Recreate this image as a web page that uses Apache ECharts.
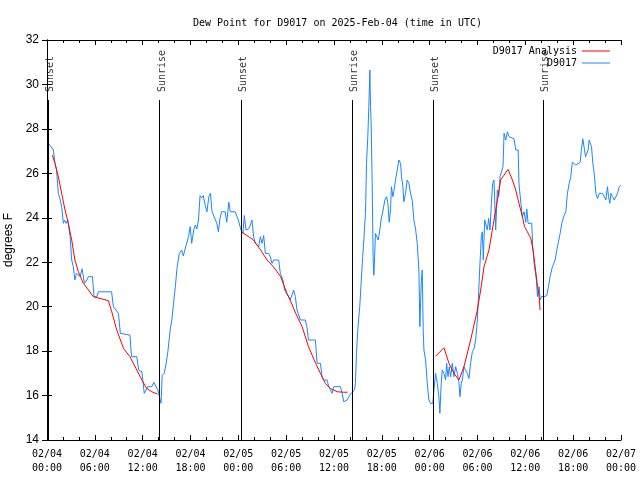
<!DOCTYPE html>
<html>
<head>
<meta charset="utf-8">
<script src="https://cdn.jsdelivr.net/npm/echarts@6/dist/echarts.min.js"></script>
<style>html,body{margin:0;padding:0;background:#fff}#c{width:640px;height:480px}</style>
</head>
<body>
<div id="c"></div>
<script>
// ---- data (hours since 2025-02-04 00:00 UTC) ----
const xTickLabels = ['02/04\n00:00','02/04\n06:00','02/04\n12:00','02/04\n18:00','02/05\n00:00','02/05\n06:00','02/05\n12:00','02/05\n18:00','02/06\n00:00','02/06\n06:00','02/06\n12:00','02/06\n18:00','02/07\n00:00'];
const sunEvents = ['Sunset','Sunrise','Sunset','Sunrise','Sunset','Sunrise'];
const sunHours = [0.15, 14.1, 24.33, 38.23, 48.4, 62.2];

const obsHours = [0.17,0.4,0.8,1.0,1.2,1.42,1.6,1.84,2.05,2.2,2.4,2.6,2.9,3.1,3.3,3.5,3.7,4.15,4.4,4.7,5.0,5.2,5.7,5.9,6.25,6.45,8.1,8.33,8.96,9.2,10.4,10.6,11.26,11.5,11.9,12.2,12.45,12.65,13.15,13.4,13.65,13.9,14.1,14.3,14.45,14.7,14.95,15.16,15.45,15.66,15.87,16.1,16.3,16.6,16.9,17.1,17.4,17.75,17.96,18.15,18.4,18.6,18.8,19.0,19.2,19.4,19.6,19.85,20.06,20.3,20.5,20.7,20.9,21.3,21.5,21.7,21.9,22.35,22.55,22.8,22.99,23.6,23.8,24.0,24.16,24.33,24.58,24.75,24.96,25.29,25.5,25.71,25.92,26.13,26.55,26.76,26.97,27.18,27.39,27.8,28.0,28.22,28.43,28.64,29.06,29.27,29.6,29.8,30.3,30.5,30.95,31.15,31.36,31.78,32.4,32.6,32.8,33.67,33.88,34.3,34.5,34.7,35.13,35.34,35.55,35.76,35.97,36.8,37.02,37.23,37.44,37.65,37.86,38.15,38.4,38.57,38.69,38.82,38.98,39.23,39.4,39.6,39.74,39.95,40.08,40.24,40.37,40.5,40.58,40.66,40.79,40.91,41.0,41.08,41.2,41.41,41.54,41.75,41.9,42.16,42.38,42.59,42.75,42.92,43.09,43.2,43.39,43.51,43.72,43.93,44.14,44.35,44.47,44.64,44.76,44.97,45.18,45.39,45.6,45.81,46.02,46.23,46.44,46.65,46.77,46.94,47.07,47.19,47.28,47.49,47.7,47.9,48.1,48.4,48.53,48.74,48.95,49.16,49.28,49.45,49.58,49.79,50.0,50.13,50.3,50.46,50.63,50.84,51.05,51.26,51.47,51.68,51.8,51.97,52.1,52.3,52.5,52.72,52.93,53.14,53.35,53.56,53.77,53.98,54.1,54.31,54.48,54.6,54.73,54.9,55.07,55.23,55.4,55.57,55.74,55.9,56.07,56.28,56.49,56.66,56.83,57.04,57.2,57.33,57.54,57.75,57.96,58.17,58.59,58.8,59.1,59.2,59.4,59.63,59.84,60.05,60.18,60.35,60.6,60.8,60.93,61.1,61.22,61.39,61.52,61.73,61.85,62.02,62.35,62.69,62.9,63.1,63.4,63.53,63.74,63.95,64.16,64.37,64.57,64.87,65.08,65.28,65.5,65.7,65.9,66.1,66.33,66.54,66.88,67.04,67.21,67.38,67.55,67.71,67.88,68.0,68.17,68.3,68.47,68.64,68.85,69.06,69.27,69.47,69.68,69.9,70.1,70.3,70.44,70.6,70.73,70.94,71.15,71.36,71.57,71.78,71.98];
const obsValues = [27.35,27.3,27.05,26.45,26.15,25.1,24.9,24.5,23.75,23.9,23.75,23.9,23.15,22.1,21.8,21.2,21.5,21.35,21.7,21.05,21.2,21.35,21.35,20.45,20.45,20.67,20.67,20.0,19.7,18.8,18.72,17.75,17.75,17.15,17.07,16.1,16.1,16.4,16.4,16.6,16.55,16.25,15.95,15.65,16.9,17.0,17.45,17.97,18.95,19.4,20.15,20.9,21.72,22.4,22.55,22.28,22.7,23.15,23.6,22.85,23.45,23.67,23.5,23.9,25.0,24.9,25.0,24.55,24.27,24.95,25.1,24.27,24.2,23.75,23.37,23.97,24.27,24.27,23.8,24.7,24.27,24.27,24.27,23.9,23.9,23.45,23.3,24.1,23.45,23.5,23.67,23.9,23.15,22.85,22.7,23.15,22.85,23.2,22.4,22.4,22.25,21.95,22.1,22.1,22.1,21.5,21.2,20.75,20.45,20.3,20.75,20.45,19.85,19.4,19.4,19.1,18.5,18.5,17.45,17.45,16.85,16.7,16.7,16.4,16.25,16.1,16.4,16.4,16.1,15.72,15.65,15.8,15.95,16.1,16.17,16.25,16.55,17.9,18.95,20.0,21.05,22.25,23.0,24.2,26.45,27.65,29.0,30.65,29.0,28.25,25.55,22.1,21.42,22.1,23.3,23.3,23.0,23.45,23.9,24.35,24.8,24.95,24.7,23.8,24.35,25.4,24.95,25.2,25.7,26.15,26.6,26.45,25.85,25.4,24.72,25.1,25.7,25.55,25.1,24.8,23.9,23.5,22.85,21.65,19.1,21.05,21.65,18.95,18.05,17.6,16.55,15.8,15.65,15.65,16.25,17.0,16.55,15.95,15.2,16.55,17.15,17.0,16.7,17.45,16.85,17.3,16.85,17.45,16.85,17.3,17.0,16.55,15.95,16.55,16.7,17.3,17.15,17.0,16.77,17.45,17.97,18.1,18.5,19.4,20.3,21.95,23.15,23.37,22.1,23.9,23.97,23.45,23.97,23.45,24.65,25.55,25.7,23.45,25.25,24.95,25.85,25.85,26.3,27.8,27.5,27.87,27.65,27.57,27.55,27.05,27.05,25.55,24.8,24.05,24.27,23.8,24.4,23.75,23.67,23.75,22.7,21.95,21.65,21.2,20.45,20.9,20.3,20.45,20.45,20.5,20.9,21.35,21.8,21.8,22.1,22.55,22.93,23.3,23.75,24.12,24.27,25.1,25.55,25.85,26.5,26.45,26.37,26.45,26.5,27.1,27.55,27.5,26.75,26.7,27.05,27.5,27.57,27.2,26.45,26.0,25.1,24.87,25.1,25.15,25.1,24.95,24.8,25.4,24.95,24.65,25.1,24.95,24.8,24.87,25.1,25.4,25.47];

// analysis series (null = gap between segments)
const anaHours = [0.67,1.0,1.42,1.84,2.26,2.68,3.1,3.5,3.94,4.56,5.2,5.8,6.66,7.7,8.12,8.75,9.6,10.4,11.26,11.9,12.5,13.15,13.86,
  null,
  24.45,25.3,25.9,26.8,27.6,28.4,29.3,30.1,30.5,31.2,32.0,32.8,33.7,34.3,34.9,35.55,36.4,37.2,37.7,
  null,
  48.74,49.79,50.42,51.05,51.68,52.3,53.14,53.98,54.4,54.82,55.44,56.07,56.57,56.9,57.33,57.83,58.38,58.8,59.2,59.63,59.9,60.26,60.68,60.97,61.18,61.43,61.6,61.73,61.85];
const anaValues = [26.82,26.45,25.85,25.1,24.35,23.75,23.0,22.1,21.57,21.05,20.75,20.45,20.37,20.27,19.77,18.95,18.12,17.75,17.15,16.7,16.32,16.17,16.07,
  null,
  23.35,23.15,23.0,22.55,22.1,21.8,21.35,20.6,20.3,19.7,19.1,18.2,17.45,17.0,16.55,16.32,16.17,16.15,16.15,
  null,
  17.77,18.15,17.45,17.0,16.7,17.3,18.5,19.85,20.75,21.8,22.55,23.9,24.95,25.7,25.92,26.18,25.7,25.25,24.65,24.05,23.6,23.37,23.07,22.55,21.95,21.2,20.75,20.45,19.85];

// ---- build ----
const mono = 'DejaVu Sans Mono';
const sans = 'Liberation Sans';
const obsData = obsHours.map((h, i) => [h, obsValues[i]]);
const anaData = anaHours.map((h, i) => h === null ? ['-', '-'] : [h, anaValues[i]]);
const sunLineData = sunHours.map(h => [{coord: [h, 14]}, {coord: [h, 29.3]}]);
const sunLabelData = sunHours.map((h, i) => ({value: [h, 29.66], name: sunEvents[i]}));

const xCommon = {
  type: 'value', min: 0, max: 72, interval: 6,
  axisLine: {show: true, lineStyle: {color: '#000', width: 1}},
  axisTick: {show: true, inside: true, length: 5, lineStyle: {color: '#000'}},
  minorTick: {show: true, splitNumber: 3, length: 3, lineStyle: {color: '#000'}},
  splitLine: {show: false}
};
const yCommon = {
  type: 'value', min: 14, max: 32, interval: 2,
  axisLine: {show: true, lineStyle: {color: '#000', width: 1}},
  axisTick: {show: true, inside: true, length: 5, lineStyle: {color: '#000'}},
  splitLine: {show: false}
};
const lineIcon = 'path://M0,0 L28,0 L28,1 L0,1 Z';

const chart = echarts.init(document.getElementById('c'), null, {renderer: 'canvas'});
chart.setOption({
  animation: false,
  backgroundColor: '#fff',
  title: {
    text: 'Dew Point for D9017 on 2025-Feb-04 (time in UTC)',
    left: 188, top: 13,
    textStyle: {fontFamily: mono, fontSize: 10, fontWeight: 'normal', color: '#000'}
  },
  legend: {
    data: [
      {name: 'D9017 Analysis', icon: lineIcon, itemStyle: {color: '#ff0000'}},
      {name: 'D9017', icon: lineIcon, itemStyle: {color: '#1a87ff'}}
    ],
    orient: 'vertical', align: 'right', right: 30, top: 45, padding: 0,
    itemWidth: 28, itemHeight: 1.2, itemGap: 0,
    textStyle: {fontFamily: mono, fontSize: 10, color: '#000', lineHeight: 12}
  },
  grid: {left: 47, right: 19, top: 40, bottom: 40, containLabel: false, outerBoundsMode: 'none'},
  xAxis: [
    Object.assign({}, xCommon, {
      position: 'bottom',
      axisLabel: {
        margin: 7, fontFamily: mono, fontSize: 10, color: '#000', lineHeight: 14,
        formatter: v => xTickLabels[Math.round(v / 6)]
      }
    }),
    Object.assign({}, xCommon, {position: 'top', axisLabel: {show: false}})
  ],
  yAxis: [
    Object.assign({}, yCommon, {
      position: 'left',
      name: 'degrees F', nameLocation: 'middle', nameGap: 27, nameRotate: 90,
      nameTextStyle: {fontFamily: sans, fontSize: 12, color: '#000'},
      axisLabel: {margin: 8, fontFamily: sans, fontSize: 12, color: '#000'}
    }),
    Object.assign({}, yCommon, {position: 'right', axisLabel: {show: false}})
  ],
  series: [
    {
      name: 'D9017 Analysis', type: 'line', data: anaData, showSymbol: false, symbol: 'none',
      connectNulls: false, lineStyle: {color: '#ff0000', width: 1}, itemStyle: {color: '#ff0000'}, z: 3
    },
    {
      name: 'D9017', type: 'line', data: obsData, showSymbol: false, symbol: 'none',
      lineStyle: {color: '#1a87ff', width: 1}, itemStyle: {color: '#1a87ff'}, z: 2,
      markLine: {
        silent: true, symbol: ['none', 'none'], label: {show: false},
        lineStyle: {color: '#000', width: 1, type: 'solid'},
        data: sunLineData
      }
    },
    {
      name: 'sun', type: 'scatter', data: sunLabelData, symbolSize: 0, silent: true,
      label: {
        show: true, formatter: p => p.name, position: 'inside', rotate: 90,
        align: 'left', verticalAlign: 'middle', offset: [0, 2.5],
        fontFamily: mono, fontSize: 10, color: '#000'
      }
    }
  ]
});
</script>
</body>
</html>
